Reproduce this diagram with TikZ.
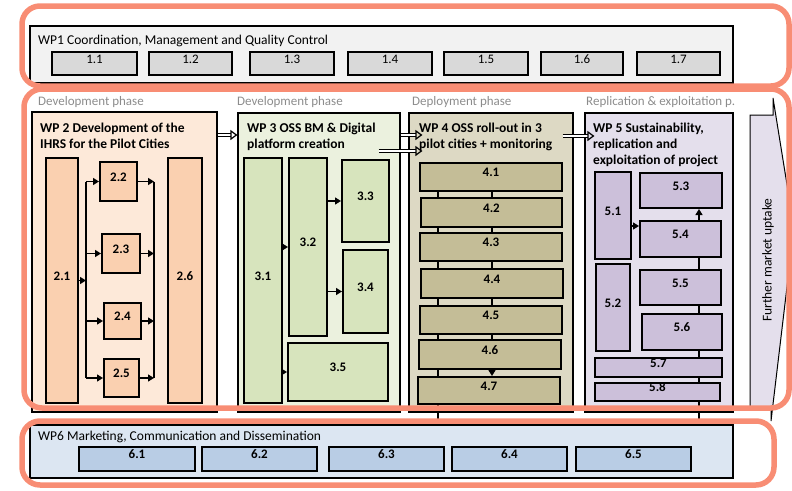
\documentclass[tikz,border=0pt]{standalone}
\usepackage{fontspec}
\setmainfont{Carlito}
\usetikzlibrary{fit,calc,arrows.meta}

\definecolor{ringc}{RGB}{248,141,116}
\definecolor{greyA}{RGB}{242,242,242}
\definecolor{greyB}{RGB}{217,217,217}
\definecolor{peachA}{RGB}{253,233,217}
\definecolor{peachB}{RGB}{250,208,176}
\definecolor{greenA}{RGB}{235,241,222}
\definecolor{greenB}{RGB}{215,228,189}
\definecolor{sandA}{RGB}{221,217,196}
\definecolor{sandB}{RGB}{196,189,151}
\definecolor{lilacA}{RGB}{228,223,236}
\definecolor{lilacB}{RGB}{204,192,218}
\definecolor{blueA}{RGB}{220,230,242}
\definecolor{blueB}{RGB}{185,205,229}

\tikzset{
  wp/.style={draw, line width=1.1pt, inner sep=0pt},
  sub/.style={draw, line width=2pt, inner sep=0pt, font=\bfseries\fontsize{13}{15}\selectfont},
  wptitle/.style={anchor=north west, inner sep=0pt, align=left, font=\bfseries\fontsize{13.5}{16}\selectfont},
  plaintitle/.style={anchor=base west, inner sep=0pt, font=\fontsize{13.5}{16}\selectfont},
  phase/.style={anchor=base west, inner sep=0pt, text=black!45, font=\fontsize{13}{15}\selectfont},
  phaseline/.style={draw=black!30, line width=0.7pt, double=white, double distance=1.5pt, dash pattern=on 3.5pt off 1.5pt},
  link/.style={line width=1.4pt, -{Triangle[length=6pt,width=7pt]}},
  feed/.style={line width=1.4pt},
  flow/.style={line width=1.2pt, double=white, double distance=2.2pt, -{Triangle[open,length=7pt,width=10pt]}},
  ring/.style={draw=ringc, line width=5.5pt, rounded corners=18pt}
}

\begin{document}
\begin{tikzpicture}[x=1pt,y=-1pt]
\useasboundingbox (0,0) rectangle (792,490);
\clip (0,0) rectangle (792,490);

% phases
\foreach \x in {29,229,404,580,741}
  \draw[phaseline] (\x,93) -- (\x,419);
\node[phase] (ph1) at (38,105) {Development phase};
\node[phase] (ph2) at (237,105) {Development phase};
\node[phase] (ph3) at (412,105) {Deployment phase};
\node[phase] (ph4) at (586,105) {Replication \& exploitation p.};

% WP1
\node[wp, fill=greyA, fit={(30,26) (733,83)}] (wp1) {};
\node[plaintitle] (t1) at (38,44) {WP1 Coordination, Management and Quality Control};
\foreach \i/\a/\b in {1/52/137,2/149/232,3/250/334,4/348/432,5/444/528,6/541/623,7/637/720}
  \node[sub, fill=greyB, font=\fontsize{13}{15}\selectfont, fit={(\a,52) (\b,75)}] (s1\i) {1.\i};

% WP6
\node[wp, fill=blueA, fit={(30,425) (733,478)}] (wp6) {};
\node[plaintitle] (t6) at (38,440) {WP6 Marketing, Communication and Dissemination};
\foreach \i/\a/\b in {1/79/195,2/202/317,3/329/444,4/452/567,5/576/691}
  \node[sub, fill=blueB, fit={(\a,447) (\b,471)}] (s6\i) {6.\i};

% WP2
\node[wp, fill=peachA, fit={(32,112) (217,412)}] (wp2) {};
\node[wptitle] (t2) at (40,122.5) {WP 2 Development of the\\IHRS for the Pilot Cities};
\node[sub, fill=peachB, fit={(46,158) (78,403)}] (s21) {2.1};
\node[sub, fill=peachB, fit={(100,162) (137,201)}] (s22) {2.2};
\node[sub, fill=peachB, fit={(102,234) (140,273)}] (s23) {2.3};
\node[sub, fill=peachB, fit={(104,303) (141,339)}] (s24) {2.4};
\node[sub, fill=peachB, fit={(104,359) (139,397)}] (s25) {2.5};
\node[sub, fill=peachB, fit={(168,158) (202,403)}] (s26) {2.6};
\coordinate (busL) at (86,0);
\coordinate (busR) at (154,0);
\draw[link] (s21.east) -- (s21.east -| busL);
\draw[feed] (s22.west -| busL) -- (s25.west -| busL);
\draw[feed] (s22.east -| busR) -- (s25.east -| busR);
\foreach \k in {2,...,5} {
  \draw[link] (s2\k.west -| busL) -- (s2\k.west);
  \draw[link] (s2\k.east) -- (s2\k.east -| busR);
}

% WP3
\node[wp, fill=greenA, fit={(238,113) (400,412)}] (wp3) {};
\node[wptitle] (t3) at (247,122.5) {WP 3 OSS BM \& Digital\\platform creation};
\node[sub, fill=greenB, fit={(244,158) (282,403)}] (s31) {3.1};
\node[sub, fill=greenB, fit={(289,158) (327,336)}] (s32) {3.2};
\node[sub, fill=greenB, fit={(342,160) (389,242)}] (s33) {3.3};
\node[sub, fill=greenB, fit={(343,250) (388,333)}] (s34) {3.4};
\node[sub, fill=greenB, fit={(288,343) (388,401)}] (s35) {3.5};
\draw[link] (s31.east |- s32) -- (s32.west);
\draw[link] (s31.east |- s35) -- (s35.west);
\draw[link] (s32.east |- s33) -- (s33.west);
\draw[link] (s32.east |- s34) -- (s34.west);

% WP4
\node[wp, fill=sandA, fit={(409,113) (573,412)}] (wp4) {};
\node[wptitle] (t4) at (419,122.5) {WP 4 OSS roll-out in 3\\pilot cities + monitoring};
\foreach \i/\a/\b/\t/\u in {1/420/562/163/191,2/421/562/198/227,3/420/562/233/261,4/421/563/269/298,5/420/562/306/334,6/419/561/340/369,7/418/560/377/404}
  \node[sub, fill=sandB, fit={(\a,\t) (\b,\u)}] (s4\i) {4.\i};
\coordinate (colA) at (438,0);
\coordinate (colB) at (492,0);
\foreach \a/\b in {1/2,2/3,3/4,4/5,5/6} {
  \draw[feed] (s4\a.south -| colA) -- (s4\b.north -| colA);
  \draw[feed] (s4\a.south -| colB) -- (s4\b.north -| colB);
}
\draw[feed] (s46.south -| colA) -- (s47.north -| colA);
\draw[link] (s46.south -| colB) -- (s47.north -| colB);
\draw[feed] (s47.south -| colA) -- (wp6.north -| colA);

% WP5
\node[wp, fill=lilacA, fit={(585,113) (733,412)}] (wp5) {};
\node[wptitle] (t5) at (593,122.5) {WP 5 Sustainability,\\replication and\\exploitation of project};
\node[sub, fill=lilacB, fit={(595,172) (631,259)}] (s51) {5.1};
\node[sub, fill=lilacB, fit={(596,264) (630,351)}] (s52) {5.2};
\node[sub, fill=lilacB, fit={(640,173) (722,208)}] (s53) {5.3};
\node[sub, fill=lilacB, fit={(640,221) (721,257)}] (s54) {5.4};
\node[sub, fill=lilacB, fit={(640,270) (721,305)}] (s55) {5.5};
\node[sub, fill=lilacB, fit={(642,314) (722,350)}] (s56) {5.6};
\node[sub, fill=lilacB, fit={(595,358) (722,377)}] (s57) {5.7};
\node[sub, fill=lilacB, fit={(595,383) (720,401)}] (s58) {5.8};
\coordinate (col5) at (699,0);
\draw[link] (s51.east |- 0,226) -- (s54.west |- 0,226);
\draw[link] (s54.north -| col5) -- (s53.south -| col5);
\foreach \a/\b in {s54/s55,s55/s56,s56/s57,s57/s58,s58/wp6}
  \draw[feed] (\a.south -| col5) -- (\b.north -| col5);

% hand-over between work packages
\draw[flow] (wp2.east |- 0,135) -- (wp3.west |- 0,135);
\draw[flow] (wp3.east |- 0,135) -- ($(wp4.west |- 0,135)+(14pt,0)$);
\draw[flow] ($(wp3.east |- 0,151)+(-22pt,0)$) -- ($(wp4.west |- 0,151)+(14pt,0)$);
\draw[flow] ($(wp4.east |- 0,136)+(-11pt,0)$) -- ($(wp5.west |- 0,136)+(10pt,0)$);

% market arrow
\filldraw[fill=lilacA, line width=1pt] (750,410) -- (750,115) -- (773,115) -- (773,98)
  -- (794,228) -- (771,421) -- (771,410) -- cycle;
\node[rotate=90, inner sep=0pt, font=\fontsize{13.5}{16}\selectfont] (mkt) at (768,260) {Further market uptake};

% highlight rings
\draw[ring] (22,6) rectangle (789,86);
\draw[ring] (24,89) rectangle (789,408);
\draw[ring] (22,421) rectangle (774,485);
\end{tikzpicture}
\end{document}
